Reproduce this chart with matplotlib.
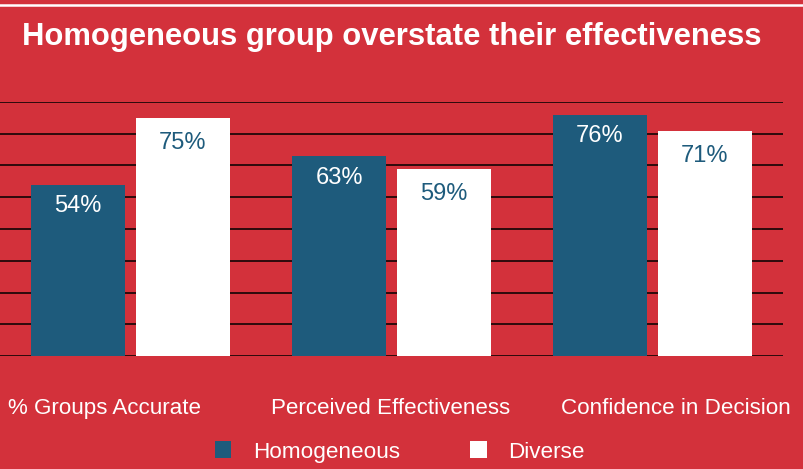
import numpy as np
import matplotlib
matplotlib.use("Agg")
import matplotlib.pyplot as plt
from matplotlib.patches import Patch
from matplotlib.lines import Line2D

plt.rcParams['font.family'] = ['Liberation Sans', 'DejaVu Sans']

categories = ["% Groups Accurate", "Perceived Effectiveness", "Confidence in Decision"]
homogeneous = [54, 63, 76]
diverse = [75, 59, 71]
series_names = ["Homogeneous", "Diverse"]

red = "#D3313B"
blue = "#1E5B7C"

W, H = 804, 469
fig = plt.figure(figsize=(W / 100, H / 100), dpi=100, facecolor=red)

# white rule at the very top
fig.add_artist(Line2D([0, 1], [1 - 5.3 / H, 1 - 5.3 / H], color="white", lw=1.8,
                      transform=fig.transFigure))

fig.text(22 / W, 1 - 37.5 / H, "Homogeneous group overstate their effectiveness",
         color="white", fontsize=22.3, fontweight="bold", ha="left", va="center")

ax = fig.add_axes([0, 113 / H, 783 / W, 254 / H])
ax.set_facecolor("none")
ax.set_xlim(-0.5, 2.5)
ax.set_ylim(0, 80)
ax.set_yticks(np.arange(0, 81, 10))
ax.yaxis.grid(True, color="black", lw=1.1)
ax.set_axisbelow(True)
for s in ax.spines.values():
    s.set_visible(False)
ax.tick_params(length=0, labelleft=False, labelbottom=False)

x = np.arange(len(categories))
off = 0.201
bw = 0.36
ax.bar(x - off, homogeneous, width=bw, color=blue)
ax.bar(x + off, diverse, width=bw, color="white")

for xi, v in zip(x, homogeneous):
    ax.annotate(f"{v}%", (xi - off, v), xytext=(0, -15.5), textcoords="offset points",
                ha="center", va="center", fontsize=17, color="white")
for xi, v in zip(x, diverse):
    ax.annotate(f"{v}%", (xi + off, v), xytext=(0, -18), textcoords="offset points",
                ha="center", va="center", fontsize=17, color=blue)

# category labels (outer ones sit nearer the figure edges)
label_shift = [-19, -1, 16.5]
for xi, lab, dx in zip(x, categories, label_shift):
    ax.annotate(lab, (xi, 0), xytext=(dx, -37.5), textcoords="offset points",
                ha="center", va="center", fontsize=16.1, color="white")

handles = [Patch(facecolor=blue, edgecolor="none"), Patch(facecolor="white", edgecolor="none")]
fig.legend(handles, series_names, loc="center", bbox_to_anchor=(399.5 / W, 1 - 452 / H),
           ncol=2, frameon=False, fontsize=16.2, labelcolor="white",
           handlelength=0.75, handleheight=0.75, handletextpad=0.95, columnspacing=3.1)

fig.savefig("out.png", dpi=100, facecolor=red)
